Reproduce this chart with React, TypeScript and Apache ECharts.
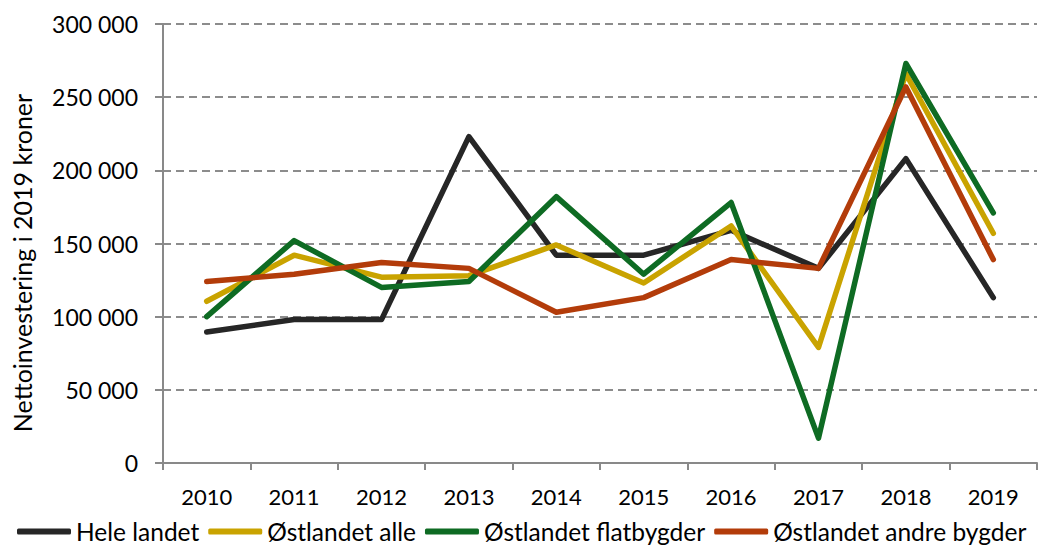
import React, { useEffect, useRef } from "react";
import * as echarts from "echarts";

const years = ["2010", "2011", "2012", "2013", "2014", "2015", "2016", "2017", "2018", "2019"];
const heleLandet = [89500, 98000, 98000, 223000, 142000, 142000, 159000, 133000, 208000, 113000];
const ostlandetAlle = [110500, 142000, 127000, 128000, 149000, 123000, 162000, 79000, 266000, 157000];
const ostlandetFlat = [100000, 152000, 120000, 124000, 182000, 129000, 178000, 17000, 273000, 171000];
const ostlandetAndre = [124000, 129000, 137000, 133000, 103000, 113000, 139000, 133000, 257000, 139000];

const seriesNames = ["Hele landet", "Østlandet alle", "Østlandet flatbygder", "Østlandet andre bygder"];
const seriesColors = ["#262626", "#C9A300", "#0E6B23", "#B33C0A"];
const seriesData = [heleLandet, ostlandetAlle, ostlandetFlat, ostlandetAndre];
const yTitle = "Nettoinvestering i 2019 kroner";

const FONT = "Lato";

function fmt(v: number) {
  return String(v).replace(/\B(?=(\d{3})+(?!\d))/g, " ");
}

export default function App() {
  const ref = useRef<HTMLDivElement>(null);
  useEffect(() => {
    if (!ref.current) return;
    const chart = echarts.init(ref.current, null, { renderer: "svg" });
    chart.setOption({
      animation: false,
      backgroundColor: "#ffffff",
      grid: { left: 163, right: 6, top: 24, bottom: 86, containLabel: false, outerBoundsMode: "none" },
      legend: {
        data: seriesNames,
        left: 17,
        top: 519,
        width: 1026,
        padding: 0,
        icon: "roundRect",
        itemWidth: 54,
        itemHeight: 6,
        itemGap: 9,
        textStyle: { fontFamily: FONT, fontSize: 24.5, color: "#000", padding: [0, 0, 0, 0] },
      },
      graphic: [
        {
          type: "text",
          x: 22,
          y: 263,
          rotation: Math.PI / 2,
          style: {
            text: yTitle,
            fontFamily: FONT,
            fontSize: 25,
            fill: "#000",
            align: "center",
            verticalAlign: "middle",
          },
        },
      ],
      xAxis: {
        type: "category",
        data: years,
        boundaryGap: true,
        axisLine: { lineStyle: { color: "#898989", width: 2 } },
        axisTick: { show: true, length: 7, lineStyle: { color: "#898989", width: 2 } },
        axisLabel: { fontFamily: FONT, fontSize: 22, color: "#000", margin: 22 },
        splitLine: { show: false },
      },
      yAxis: {
        type: "value",
        min: 0,
        max: 300000,
        interval: 50000,
        axisLine: { show: true, lineStyle: { color: "#898989", width: 2 } },
        axisTick: { show: true, length: 8, lineStyle: { color: "#898989", width: 2 } },
        axisLabel: { fontFamily: FONT, fontSize: 23, color: "#000", margin: 25, formatter: (v: number) => fmt(v) },
        splitLine: { show: true, lineStyle: { color: "#8c8c8c", width: 2, type: [8, 5] } },
      },
      series: seriesNames.map((name, i) => ({
        name,
        type: "line",
        data: seriesData[i],
        showSymbol: false,
        symbol: "none",
        color: seriesColors[i],
        lineStyle: { color: seriesColors[i], width: 5.5, cap: "round", join: "round" },
      })),
    });
    return () => chart.dispose();
  }, []);
  return <div ref={ref} style={{ position: "absolute", left: 0, top: 0, width: 1043, height: 549 }} />;
}
